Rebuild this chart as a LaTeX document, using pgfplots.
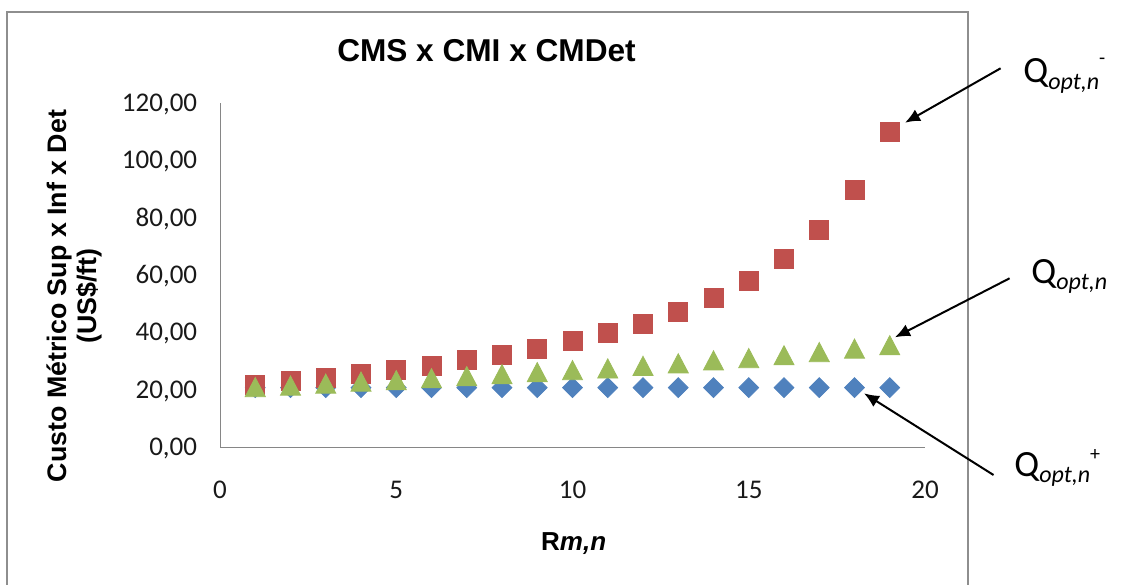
\documentclass[border=0pt]{standalone}
\usepackage{fontspec}
\setmainfont{Liberation Sans}
\newfontfamily\carlito{Carlito}
\usepackage{pgfplots}
\pgfplotsset{compat=1.18}
\usetikzlibrary{arrows.meta}
\definecolor{cmsblue}{HTML}{4F81BD}
\definecolor{cmsred}{HTML}{C0504D}
\definecolor{cmsgreen}{HTML}{9BBB59}
\definecolor{framegray}{HTML}{8E8E8E}
\definecolor{axisgray}{HTML}{868686}
\begin{document}
\begin{tikzpicture}
\useasboundingbox (0,0) rectangle (561.5pt,292pt);
\begin{axis}[
  at={(110pt,68.5pt)}, anchor=south west,
  scale only axis, width=352.5pt, height=172pt,
  xmin=0, xmax=20, ymin=0, ymax=120,
  axis x line*=bottom, axis y line*=left,
  axis line style={draw=axisgray, line width=0.5pt},
  xtick={0,5,10,15,20}, ytick={0,20,40,60,80,100,120},
  major tick length=0pt,
  /pgf/number format/assume math mode=true,
  tick label style={font=\carlito\fontsize{13.5}{13.5}\selectfont, text=black!90},
  xticklabel style={anchor=base, yshift=-25.5pt, inner sep=0pt},
  yticklabel style={anchor=base east, xshift=-11.25pt, yshift=-4.3pt, inner sep=0pt,
    /pgf/number format/.cd, fixed, fixed zerofill, precision=2, use comma},
  clip=false,
]
\addplot[only marks, mark=square*, mark size=3.5pt,
  mark options={rotate=45, fill=cmsblue, draw=cmsblue}] coordinates {
(1,20.7) (2,20.7) (3,20.7) (4,20.7) (5,20.7) (6,20.7) (7,20.7) (8,20.7) (9,20.7) (10,20.7)
(11,20.7) (12,20.7) (13,20.7) (14,20.7) (15,20.7) (16,20.7) (17,20.7) (18,20.7) (19,20.7)};
\addplot[only marks, mark=square*, mark size=4.75pt,
  mark options={fill=cmsred, draw=cmsred}] coordinates {
(1,21.8) (2,23.0) (3,24.0) (4,25.4) (5,26.9) (6,28.4) (7,30.3) (8,32.3) (9,34.2) (10,36.9)
(11,39.8) (12,43.1) (13,47.2) (14,52.1) (15,57.9) (16,65.5) (17,75.8) (18,89.6) (19,110.0)};
\addplot[only marks, mark=triangle*, mark size=5.8pt,
  mark options={yscale=1.1, yshift=-1.45pt, fill=cmsgreen, draw=cmsgreen}] coordinates {
(1,20.9) (2,21.4) (3,22.1) (4,22.8) (5,23.3) (6,24.0) (7,24.7) (8,25.4) (9,26.1) (10,26.8)
(11,27.4) (12,28.3) (13,29.2) (14,30.2) (15,31.0) (16,32.0) (17,33.1) (18,34.3) (19,35.5)};
\end{axis}
\begin{scope}[yshift=292pt, x=0.5pt, y=-0.5pt]
  % chart frame
  \draw[framegray, line width=0.9pt] (6.7,600) -- (6.7,12) -- (968,12) -- (968,600);
  % title
  \node[anchor=base, inner sep=0pt] at (486.5,62)
    {\bfseries\fontsize{15.8}{16}\selectfont CMS x CMI x CMDet};
  % y label
  \node[anchor=base, rotate=90, inner sep=0pt] at (66,296)
    {\bfseries\fontsize{13.4}{14}\selectfont Custo Métrico Sup x Inf x Det};
  \node[anchor=base, rotate=90, inner sep=0pt] at (96,296)
    {\bfseries\fontsize{13.4}{14}\selectfont (US\$/ft)};
  % x label
  \node[anchor=base, inner sep=0pt] at (573.7,550)
    {\bfseries\fontsize{13}{13}\selectfont R\textit{m,n}};
  % annotations
  \draw[black, line width=1pt, -{Latex[length=7.5pt,width=6.5pt]}] (1000.6,68.3) -- (905,122.7);
  \draw[black, line width=1pt, -{Latex[length=7.5pt,width=6.5pt]}] (1009.6,278.3) -- (895,337.3);
  \draw[black, line width=1pt, -{Latex[length=7.5pt,width=6.5pt]}] (993.5,475) -- (864,393.3);
  \node[anchor=base west, inner sep=0pt] at (1023,83)
    {\carlito\fontsize{18.5}{18.5}\selectfont Q\raisebox{-3.5pt}{\fontsize{12}{12}\selectfont\itshape opt,n}\raisebox{9pt}{\fontsize{10}{10}\selectfont -}};
  \node[anchor=base west, inner sep=0pt] at (1031,284)
    {\carlito\fontsize{18.5}{18.5}\selectfont Q\raisebox{-3pt}{\fontsize{12}{12}\selectfont\itshape opt,n}};
  \node[anchor=base west, inner sep=0pt] at (1014,476)
    {\carlito\fontsize{18.5}{18.5}\selectfont Q\raisebox{-3pt}{\fontsize{12}{12}\selectfont\itshape opt,n}\raisebox{7.7pt}{\fontsize{10}{10}\selectfont +}};
\end{scope}
\end{tikzpicture}
\end{document}
